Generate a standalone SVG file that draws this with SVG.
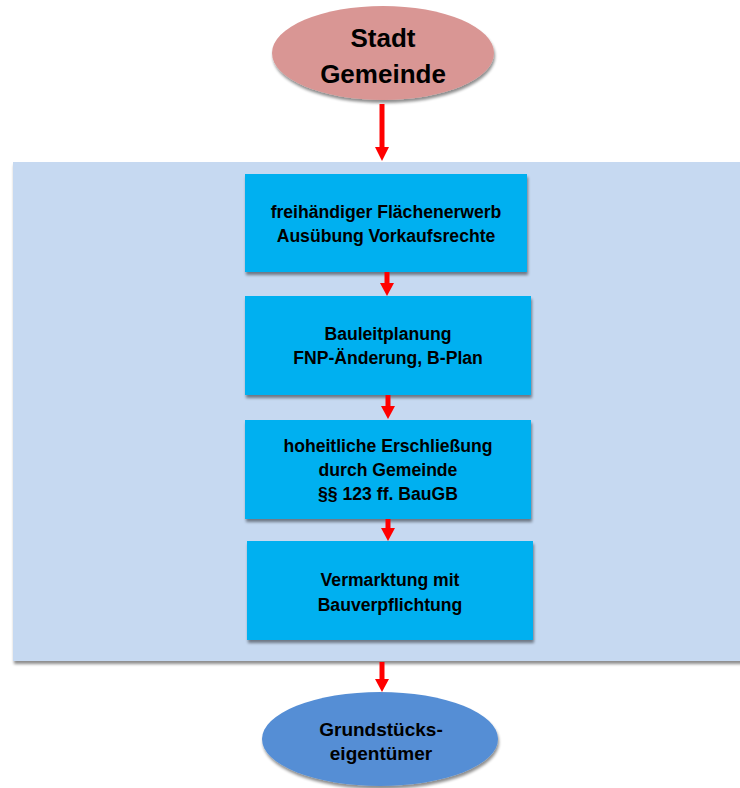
<svg xmlns="http://www.w3.org/2000/svg" width="740" height="788" viewBox="0 0 740 788">
<defs>
<filter id="sh" x="-10%" y="-10%" width="125%" height="130%">
<feGaussianBlur in="SourceAlpha" stdDeviation="1.5"/>
<feOffset dx="1" dy="2.5" result="b"/>
<feComponentTransfer><feFuncA type="linear" slope="0.45"/></feComponentTransfer>
<feMerge><feMergeNode/><feMergeNode in="SourceGraphic"/></feMerge>
</filter>
</defs>
<style>
.t{font-family:"Liberation Sans",Arial,sans-serif;font-weight:bold;fill:#000;text-anchor:middle}
.bt{font-size:17.6px}
.box{fill:#00B0F0}
.ar{stroke:#FF0000;stroke-width:5;fill:none}
.ah{fill:#FF0000}
</style>
<rect width="740" height="788" fill="#FFFFFF"/>
<g id="panel"><rect x="13" y="162" width="730" height="499" fill="#C6D9F1" filter="url(#sh)"/></g>
<g id="stadt">
<ellipse cx="383" cy="53" rx="111" ry="47" fill="#D99694" filter="url(#sh)"/>
<text class="t" x="383" y="47" font-size="26">Stadt</text>
<text class="t" x="383" y="83" font-size="26">Gemeinde</text>
</g>
<g id="box1">
<rect class="box" x="245" y="174" width="282" height="98" filter="url(#sh)"/>
<text class="t bt" x="386" y="218">freihändiger Flächenerwerb</text>
<text class="t bt" x="386" y="242">Ausübung Vorkaufsrechte</text>
</g>
<g id="box2">
<rect class="box" x="245" y="296" width="286" height="99" filter="url(#sh)"/>
<text class="t bt" x="388" y="340">Bauleitplanung</text>
<text class="t bt" x="388" y="364">FNP-Änderung, B-Plan</text>
</g>
<g id="box3">
<rect class="box" x="245" y="420" width="286" height="99" filter="url(#sh)"/>
<text class="t bt" x="388" y="452">hoheitliche Erschließung</text>
<text class="t bt" x="388" y="476">durch Gemeinde</text>
<text class="t bt" x="388" y="500">§§ 123 ff. BauGB</text>
</g>
<g id="box4">
<rect class="box" x="247" y="541" width="286" height="99" filter="url(#sh)"/>
<text class="t bt" x="390" y="586">Vermarktung mit</text>
<text class="t bt" x="390" y="611">Bauverpflichtung</text>
</g>
<g id="eigentuemer">
<ellipse cx="380" cy="739" rx="118" ry="47" fill="#558ED5" filter="url(#sh)"/>
<text class="t" x="381" y="736" font-size="19">Grundstücks-</text>
<text class="t" x="381" y="760" font-size="19">eigentümer</text>
</g>
<g id="connectors">
<line class="ar" x1="382" y1="104" x2="382" y2="148"/>
<path class="ah" d="M375,147 L389,147 L382,161 Z"/>
<line class="ar" x1="387" y1="272" x2="387" y2="284"/>
<path class="ah" d="M380,283 L394,283 L387,296 Z"/>
<line class="ar" x1="388" y1="395" x2="388" y2="407"/>
<path class="ah" d="M381,406 L395,406 L388,419 Z"/>
<line class="ar" x1="388" y1="519" x2="388" y2="529"/>
<path class="ah" d="M381,528 L395,528 L388,541 Z"/>
<line class="ar" x1="382" y1="662" x2="382" y2="680"/>
<path class="ah" d="M375,679 L389,679 L382,692 Z"/>
</g>
</svg>
